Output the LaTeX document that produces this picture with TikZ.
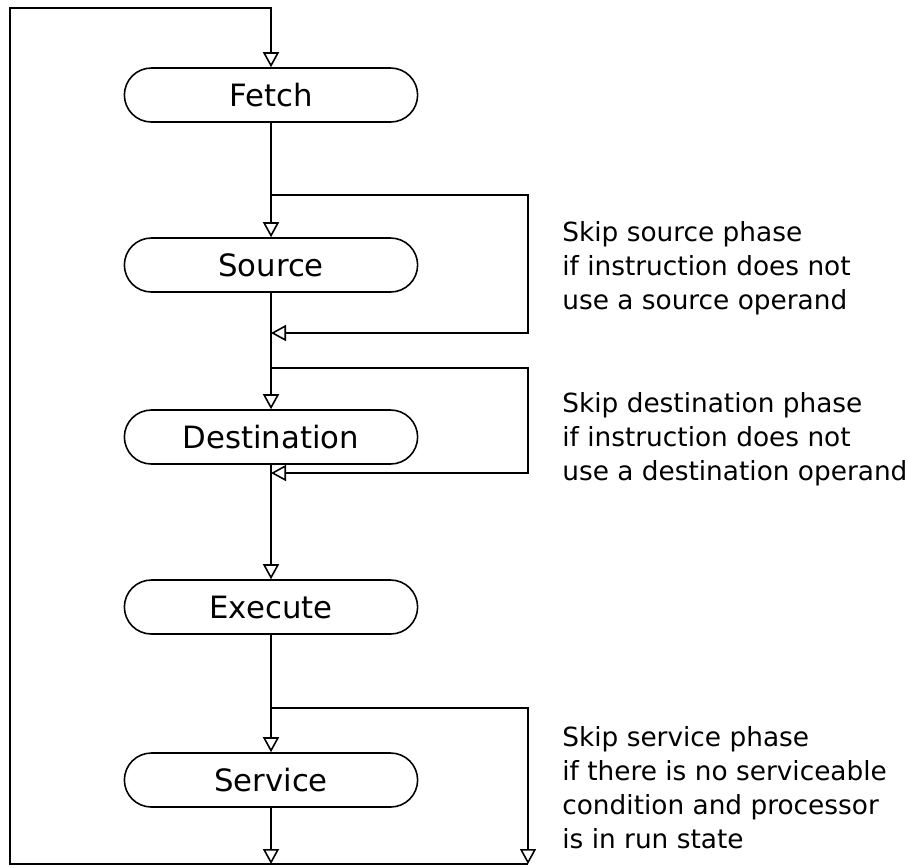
\documentclass[tikz,border=0pt]{standalone}
\usepackage{fontspec}
\setmainfont{DejaVu Sans}
\usetikzlibrary{shapes.misc,arrows.meta}

\tikzset{
  phase/.style={rounded rectangle, draw, line width=0.9pt, minimum width=6.1cm,
    minimum height=1.08cm, font=\fontsize{17.5}{20}\selectfont},
  flow/.style={line width=0.9pt, -{Triangle[open,length=0.3cm,width=0.32cm]}},
  note/.style={anchor=west, align=left, inner sep=0pt, font=\fontsize{15}{19.3}\selectfont}
}

\begin{document}
\begin{tikzpicture}[x=0.02cm,y=-0.02cm]
\useasboundingbox (0,0) rectangle (908,867);

% the five phases
\node [phase] (fetch) at (271,95) {Fetch};
\node [phase] (source) at (271,265) {Source};
\node [phase] (dest) at (271,437) {Destination};
\node [phase] (exec) at (271,607) {Execute};
\node [phase] (serv) at (271,780) {Service};

% corners of the outer loop and the skip branches
\coordinate (tl) at (10,8);
\coordinate (bl) at (10,864);
\coordinate (br) at (528,864);
\coordinate (b1) at (271,195);
\coordinate (j1) at (271,333);
\coordinate (b2) at (271,368);
\coordinate (j2) at (271,473);
\coordinate (b3) at (271,708);

% main flow
\draw [flow] (fetch) -- (source);
\draw [flow] (source) -- (dest);
\draw [flow] (dest) -- (exec);
\draw [flow] (exec) -- (serv);
\draw [flow] (serv) -- (serv |- bl);

% skips
\draw [flow] (b1) -- (b1 -| br) |- (j1);
\draw [flow] (b2) -- (b2 -| br) |- (j2);
\draw [flow] (b3) -- (b3 -| br) -- (br);

% back to fetch
\draw [flow] (br) -- (bl) -- (tl) -| (fetch.north);

\node [note] (srcnote) at (562,268) {Skip source phase\\if instruction does not\\use a source operand};
\node [note] (dstnote) at (562,439) {Skip destination phase\\if instruction does not\\use a destination operand};
\node [note] (svcnote) at (562,788) {Skip service phase\\if there is no serviceable\\condition and processor\\is in run state};
\end{tikzpicture}
\end{document}
